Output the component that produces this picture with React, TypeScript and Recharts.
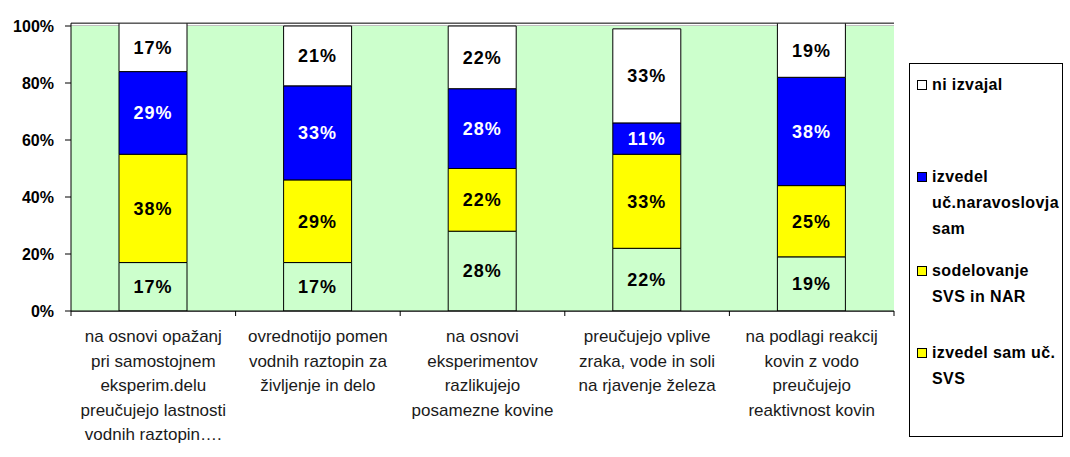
import React from 'react';
import { BarChart, Bar, XAxis, YAxis, CartesianGrid, LabelList, Legend, ReferenceArea } from 'recharts';

const categoryLines: string[][] = [
  ['na osnovi opažanj', 'pri samostojnem', 'eksperim.delu', 'preučujejo lastnosti', 'vodnih raztopin….'],
  ['ovrednotijo pomen', 'vodnih raztopin za', 'življenje in delo'],
  ['na osnovi', 'eksperimentov', 'razlikujejo', 'posamezne kovine'],
  ['preučujejo vplive', 'zraka, vode in soli', 'na rjavenje železa'],
  ['na podlagi reakcij', 'kovin z vodo', 'preučujejo', 'reaktivnost kovin'],
];
const categories = categoryLines.map((l) => l.join(' '));

// stacked from bottom to top
const izvedelSamSvs = [17, 17, 28, 22, 19];
const sodelovanje = [38, 29, 22, 33, 25];
const izvedelNar = [29, 33, 28, 11, 38];
const niIzvajal = [17, 21, 22, 33, 19];

const yTicks = [0, 20, 40, 60, 80, 100];

const seriesKeys = ['svs', 'sod', 'nar', 'ni'];
const seriesNames = ['izvedel sam uč. SVS', 'sodelovanje SVS in NAR', 'izvedel uč.naravoslovja sam', 'ni izvajal'];
const seriesColors = ['#CCFFCC', '#FFFF00', '#0000FF', '#FFFFFF'];
const labelColors = ['#000000', '#000000', '#FFFFFF', '#000000'];

const legendLines: string[][] = [['ni izvajal'], ['izvedel', 'uč.naravoslovja', 'sam'], ['sodelovanje', 'SVS in NAR'], ['izvedel sam uč.', 'SVS']];
const legendSwatches = ['#FFFFFF', '#0000FF', '#FFFF00', '#FFFF00'];

const data = categories.map((c, i) => ({
  name: c,
  svs: izvedelSamSvs[i],
  sod: sodelovanje[i],
  nar: izvedelNar[i],
  ni: niIzvajal[i],
}));

const FONT = '"Liberation Sans", Arial, sans-serif';
const W = 1070;
const H = 457;
// axis headroom so that stacks summing to 101 (rounded labels) are not cut
const Y_MAX = 101;
const TOP_100 = 26;
const BOTTOM_0 = 311;
const PLOT_TOP = BOTTOM_0 - ((BOTTOM_0 - TOP_100) * Y_MAX) / 100;
const M = { top: PLOT_TOP, right: 176, bottom: 0, left: 0 };
const Y_W = 71;
const X_H = H - BOTTOM_0;
const PLOT_W = W - M.right - M.left - Y_W;

const CategoryTick = (props: any) => {
  const { x, y, payload, index, visibleTicksCount } = props;
  const half = payload && typeof payload.offset === 'number' && payload.offset > 0 ? payload.offset : PLOT_W / categories.length / 2;
  const idx = payload && typeof payload.index === 'number' ? payload.index : index;
  const lines = categoryLines[idx] || [];
  const last = idx === (visibleTicksCount ?? categories.length) - 1;
  return (
    <g>
      <line x1={x - half} x2={x - half} y1={y} y2={y + 5} stroke="#000" strokeWidth={1} />
      {last && <line x1={x + half} x2={x + half} y1={y} y2={y + 5} stroke="#000" strokeWidth={1} />}
      <text textAnchor="middle" fontSize={17} fill="#1a1a1a" fontFamily={FONT} style={{ fontFamily: FONT }}>
        {lines.map((l, i) => (
          <tspan key={i} x={x} y={y + 31 + i * 24.6}>
            {l}
          </tspan>
        ))}
      </text>
    </g>
  );
};

const GridLine = (p: any) => {
  const isTop = Math.abs(p.y1 - TOP_100) < 1.5;
  return <line x1={p.x1} y1={p.y1} x2={p.x2} y2={p.y2} stroke={isTop ? '#808080' : '#000'} strokeWidth={1} />;
};

const itemTops = [8, 100, 194, 276];

const LegendBox = () => (
  <div
    style={{
      position: 'relative',
      width: 154,
      height: 374,
      border: '1px solid #000',
      background: '#fff',
      boxSizing: 'border-box',
      fontFamily: FONT,
    }}
  >
    {legendLines.map((lines, i) => (
      <div key={i} style={{ position: 'absolute', left: 0, top: itemTops[i], width: 160 }}>
        <div
          style={{
            position: 'absolute',
            left: 7,
            top: 8,
            width: 10,
            height: 10,
            boxSizing: 'border-box',
            border: '1px solid #000',
            background: legendSwatches[i],
          }}
        />
        {lines.map((l, j) => (
          <div
            key={j}
            style={{
              position: 'absolute',
              left: 22,
              top: j * 26,
              height: 26,
              lineHeight: '26px',
              fontSize: 16,
              fontWeight: 'bold',
              letterSpacing: 0.4,
              whiteSpace: 'nowrap',
              color: '#000',
            }}
          >
            {l}
          </div>
        ))}
      </div>
    ))}
  </div>
);

export default function App() {
  return (
    <div style={{ position: 'absolute', left: 0, top: 0, width: W, height: H, background: '#fff', fontFamily: FONT }}>
      <style>{`svg text{font-family:"Liberation Sans", Arial, sans-serif;}`}</style>
      <BarChart width={W} height={H} data={data} margin={M} barSize={68}>
        <ReferenceArea y1={0} y2={100} fill="#CCFFCC" fillOpacity={1} stroke="none" ifOverflow="visible" />
        <CartesianGrid vertical={false} horizontal={(p: any) => <GridLine {...p} />} stroke="#000" strokeOpacity={1} fill="none" />
        <XAxis
          dataKey="name"
          height={X_H}
          interval={0}
          tickSize={0}
          tickMargin={0}
          tickLine={false}
          axisLine={{ stroke: '#000' }}
          tick={(p: any) => <CategoryTick {...p} />}
        />
        <YAxis
          width={Y_W}
          domain={[0, Y_MAX]}
          ticks={yTicks}
          allowDataOverflow
          interval={0}
          tickFormatter={(v: number) => `${v}%`}
          tickSize={6}
          tickMargin={11}
          tickLine={{ stroke: '#000' }}
          axisLine={{ stroke: '#000' }}
          tick={{ fill: '#000', fontSize: 16, fontWeight: 'bold', fontFamily: FONT }}
        />
        <YAxis yAxisId="r" orientation="right" width={0} domain={[0, Y_MAX]} tick={false} tickLine={false} axisLine={{ stroke: '#808080' }} />
        {seriesKeys.map((k, i) => (
          <Bar key={k} dataKey={k} name={seriesNames[i]} stackId="a" fill={seriesColors[i]} stroke="#000" strokeWidth={1} isAnimationActive={false}>
            <LabelList
              dataKey={k}
              position="center"
              formatter={(v: any) => `${v}%`}
              fill={labelColors[i]}
              fontSize={18}
              fontWeight="bold"
              fontFamily={FONT}
              letterSpacing={1}
            />
          </Bar>
        ))}
        <Legend
          layout="vertical"
          align="center"
          verticalAlign="middle"
          wrapperStyle={{ position: 'absolute', left: 909, top: 63, width: 154, height: 374 }}
          content={() => <LegendBox />}
        />
      </BarChart>
    </div>
  );
}
